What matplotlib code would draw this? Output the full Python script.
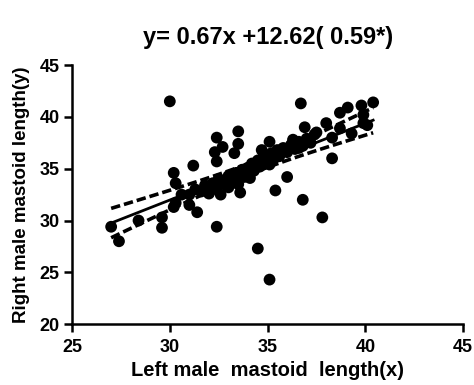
import numpy as np
import matplotlib
matplotlib.use("Agg")
import matplotlib.pyplot as plt

plt.rcParams['font.family'] = ['Liberation Sans', 'DejaVu Sans']
plt.rcParams['font.weight'] = 'bold'

# left / right mastoid length
left_x = [27.0, 27.4, 28.4, 29.6, 29.6, 30.0, 30.2, 30.3, 30.3, 30.2,
          31.4, 31.2, 32.4, 32.7, 32.3, 32.4, 33.5, 33.5, 33.3, 33.6,
          32.4, 34.5, 36.0, 35.4, 36.8, 37.8, 35.1, 34.1,
          36.7, 36.9, 38.0, 38.7, 39.1, 39.8, 40.4, 39.9, 40.1, 39.3,
          38.7, 38.3, 35.1, 34.7, 36.3, 37.5, 39.9, 37.4, 38.3, 36.6,
          31.0, 31.3, 31.6, 31.8, 32.0, 32.0, 32.2, 32.4, 32.5, 32.6,
          32.8, 33.0, 33.0, 33.2, 33.4, 33.5, 33.7, 33.8, 34.0, 34.0,
          34.2, 34.3, 34.5, 34.6, 34.8, 34.9, 35.0, 35.1, 35.2, 35.3,
          35.5, 35.6, 35.8, 36.0, 36.2, 36.4, 36.6, 36.8, 37.0, 37.2,
          30.6, 31.0]
right_y = [29.4, 28.0, 30.0, 30.3, 29.3, 41.5, 34.6, 33.6, 31.7, 31.3,
           30.8, 35.3, 38.0, 37.1, 36.6, 35.7, 38.6, 37.4, 36.5, 32.7,
           29.4, 27.3, 34.2, 32.9, 32.0, 30.3, 24.3, 34.1,
           41.3, 39.0, 39.4, 40.4, 40.9, 41.1, 41.4, 40.2, 39.2, 38.4,
           38.9, 36.0, 37.6, 36.8, 37.8, 38.5, 39.4, 38.3, 38.0, 37.0,
           32.5, 33.0, 32.8, 33.4, 33.2, 32.6, 33.6, 33.0, 34.0, 32.5,
           33.5, 33.2, 34.3, 33.8, 34.6, 33.5, 34.9, 34.2, 35.1, 34.5,
           35.5, 34.8, 35.8, 35.2, 36.2, 35.5, 36.0, 35.4, 36.5, 35.9,
           36.8, 36.2, 37.0, 36.6, 37.3, 36.9, 37.6, 37.2, 37.9, 37.5,
           32.5, 31.5]

title_text = "y= 0.67x +12.62( 0.59*)"
x_label = "Left male  mastoid  length(x)"
y_label = "Right male mastoid length(y)"

x = np.array(left_x)
y = np.array(right_y)

# linear fit + 95% confidence band of the line
slope, intercept = np.polyfit(x, y, 1)
n = len(x)
resid = y - (slope * x + intercept)
s = np.sqrt(np.sum(resid ** 2) / (n - 2))
sxx = np.sum((x - x.mean()) ** 2)
xs = np.linspace(x.min(), x.max(), 100)
fit = slope * xs + intercept
half = 1.99 * s * np.sqrt(1.0 / n + (xs - x.mean()) ** 2 / sxx)

fig = plt.figure(figsize=(4.74, 3.85), dpi=100)
ax = fig.add_axes([0.152, 0.158, 0.825, 0.673])

ax.scatter(x, y, s=72, color='black', edgecolors='none', zorder=3)
ax.plot(xs, fit, color='black', lw=2, zorder=4)
ax.plot(xs, fit + half, color='black', lw=2.6, ls=(0, (2.6, 1.1)), zorder=4)
ax.plot(xs, fit - half, color='black', lw=2.6, ls=(0, (2.6, 1.1)), zorder=4)

ax.set_xlim(25, 45)
ax.set_ylim(20, 45)
ax.set_xticks([25, 30, 35, 40, 45])
ax.set_yticks([20, 25, 30, 35, 40, 45])

for side in ['top', 'right']:
    ax.spines[side].set_visible(False)
for side in ['left', 'bottom']:
    ax.spines[side].set_linewidth(1.8)
ax.tick_params(width=1.8, length=6, labelsize=13, pad=3, direction='out')
ax.tick_params(axis='x', pad=4.5)
plt.setp(ax.get_xticklabels() + ax.get_yticklabels(), fontweight='bold')

ax.set_title(title_text, fontsize=17, fontweight='bold', pad=15)
ax.set_xlabel(x_label, fontsize=14.5, fontweight='bold', labelpad=4)
ax.set_ylabel(y_label, fontsize=13.5, fontweight='bold', labelpad=7)

fig.savefig('out.png', dpi=100)
